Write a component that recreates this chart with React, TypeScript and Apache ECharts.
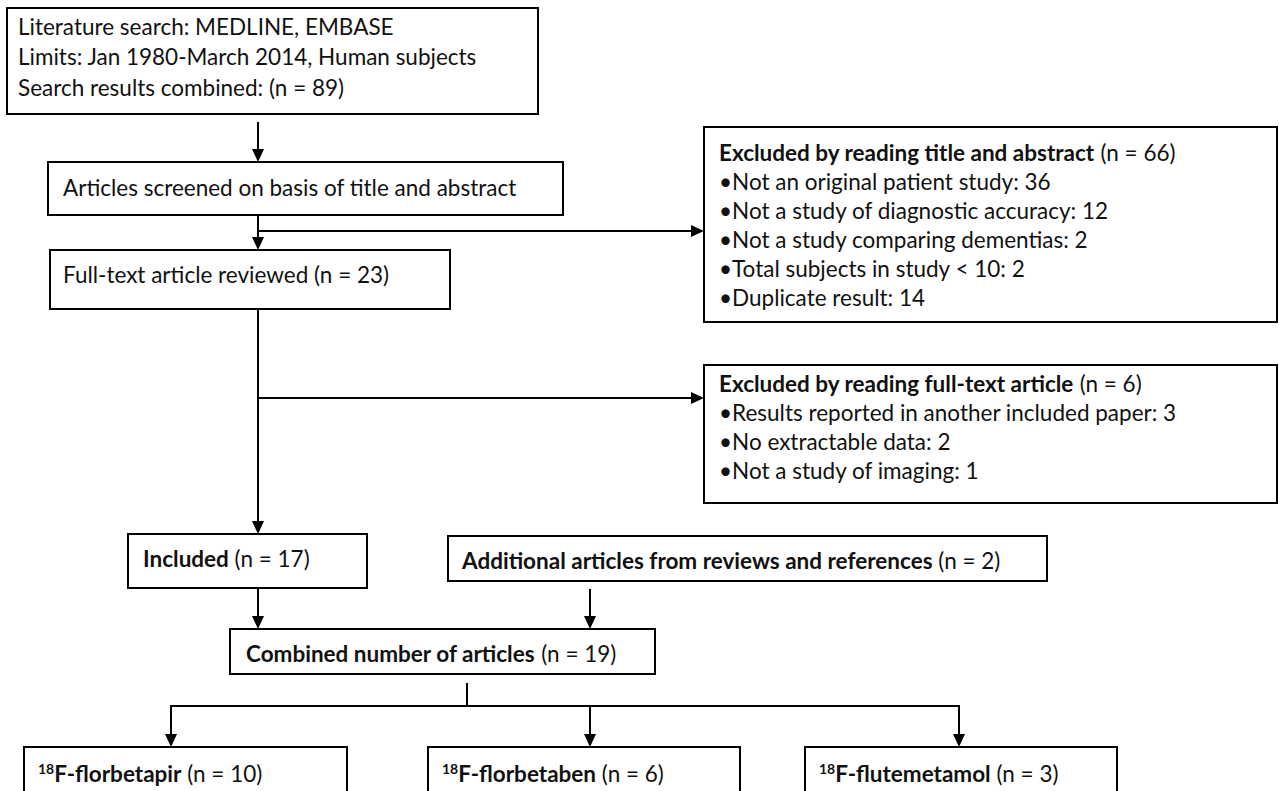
import React, { useEffect, useRef } from "react";
import * as echarts from "echarts";

// ---- data ----
const searchLines = [
  "Literature search: MEDLINE, EMBASE",
  "Limits: Jan 1980-March 2014, Human subjects",
  "Search results combined: (n = 89)",
];
const stageLabels = [
  "Articles screened on basis of title and abstract",
  "Full-text article reviewed",
  "Included",
  "Additional articles from reviews and references",
  "Combined number of articles",
];
const stageCounts = [null, 23, 17, 2, 19];
const titleAbstractHeader = "Excluded by reading title and abstract";
const titleAbstractTotal = 66;
const titleAbstractReasons = [
  "Not an original patient study",
  "Not a study of diagnostic accuracy",
  "Not a study comparing dementias",
  "Total subjects in study < 10",
  "Duplicate result",
];
const titleAbstractCounts = [36, 12, 2, 2, 14];
const fullTextHeader = "Excluded by reading full-text article";
const fullTextTotal = 6;
const fullTextReasons = [
  "Results reported in another included paper",
  "No extractable data",
  "Not a study of imaging",
];
const fullTextCounts = [3, 2, 1];
const tracerIsotope = "18";
const tracerNames = ["F-florbetapir", "F-florbetaben", "F-flutemetamol"];
const tracerCounts = [10, 6, 3];

const FONT = "Lato";
const FS = 22.5;
const INK = "#111";

function App() {
  const ref = useRef<HTMLDivElement>(null);
  useEffect(() => {
    const chart = echarts.init(ref.current!, null, { renderer: "svg" });
    const rects: any[] = [];
    const lines: any[] = [];
    const heads: any[] = [];
    const texts: any[] = [];
    const rich = {
      b: { fontWeight: "bold", fontSize: FS, fontFamily: FONT, fill: INK },
      r: { fontSize: FS, fontFamily: FONT, fill: INK },
      sup: { fontWeight: "bold", fontSize: 14, fontFamily: FONT, fill: INK, verticalAlign: "top" },
    };
    const box = (x1: number, y1: number, x2: number, y2: number) =>
      rects.push({
        type: "rect",
        shape: { x: x1, y: y1, width: x2 - x1, height: y2 - y1 },
        style: { fill: "#fff", stroke: "#000", lineWidth: 2 },
      });
    const line = (x1: number, y1: number, x2: number, y2: number) =>
      lines.push({ type: "line", shape: { x1, y1, x2, y2 }, style: { stroke: "#000", lineWidth: 2 } });
    const arrowDown = (x: number, y1: number, y2: number) => {
      line(x, y1, x, y2 - 10);
      heads.push({
        type: "polygon",
        shape: { points: [[x - 6, y2 - 13], [x + 6, y2 - 13], [x, y2]] },
        style: { fill: "#000" },
      });
    };
    const arrowRight = (y: number, x1: number, x2: number) => {
      line(x1, y, x2 - 10, y);
      heads.push({
        type: "polygon",
        shape: { points: [[x2 - 13, y - 6], [x2 - 13, y + 6], [x2, y]] },
        style: { fill: "#000" },
      });
    };
    const text = (x: number, y: number, t: string) =>
      texts.push({
        type: "text",
        x,
        y,
        style: { text: t, fontSize: FS, fontFamily: FONT, fill: INK, align: "left", verticalAlign: "middle", rich },
      });
    const n = (v: number) => `(n = ${v})`;

    // search box
    box(7, 8, 538, 114);
    searchLines.forEach((s, i) => text(18, 26 + i * 30.5, s));
    arrowDown(258, 122, 162);

    // screened
    box(48, 162, 563, 215);
    text(63, 187, stageLabels[0]);
    arrowDown(258, 215, 250);
    arrowRight(231, 258, 704);

    // excluded title/abstract
    box(704, 127, 1277, 322);
    text(719, 152, `{b|${titleAbstractHeader}} ${n(titleAbstractTotal)}`);
    titleAbstractReasons.forEach((r, i) =>
      text(719, 181 + i * 29, `•${r}: ${titleAbstractCounts[i]}`)
    );

    // full text
    box(50, 250, 450, 309);
    text(63, 274, `${stageLabels[1]} ${n(stageCounts[1] as number)}`);
    arrowDown(258, 309, 534);
    arrowRight(398, 258, 704);

    // excluded full text
    box(704, 365, 1277, 503);
    text(719, 383, `{b|${fullTextHeader}} ${n(fullTextTotal)}`);
    fullTextReasons.forEach((r, i) => text(719, 412 + i * 29, `•${r}: ${fullTextCounts[i]}`));

    // included & additional
    box(128, 534, 367, 588);
    text(143, 558, `{b|${stageLabels[2]}} ${n(stageCounts[2] as number)}`);
    box(448, 536, 1047, 581);
    text(462, 560, `{b|${stageLabels[3]}} ${n(stageCounts[3] as number)}`);
    arrowDown(258, 588, 629);
    arrowDown(590, 589, 629);

    // combined
    box(230, 629, 655, 674);
    text(246, 653, `{b|${stageLabels[4]}} ${n(stageCounts[4] as number)}`);
    line(467, 683, 467, 706);
    line(170, 706, 960, 706);

    // tracers
    const tracerBoxes = [
      [24, 347, 171],
      [428, 740, 590],
      [805, 1117, 959],
    ];
    tracerBoxes.forEach(([l, r, cx], i) => {
      arrowDown(cx, 706, 747);
      box(l, 747, r, 830);
      text(l + 14, 773, `{sup|${tracerIsotope}}{b|${tracerNames[i]}} ${n(tracerCounts[i])}`);
    });

    chart.setOption({
      animation: false,
      backgroundColor: "#fff",
      graphic: { elements: [...rects, ...lines, ...heads, ...texts] },
    });
    return () => chart.dispose();
  }, []);
  return (
    <div
      ref={ref}
      style={{ position: "fixed", left: 0, top: 0, width: 1279, height: 791, background: "#fff" }}
    />
  );
}

export default App;
